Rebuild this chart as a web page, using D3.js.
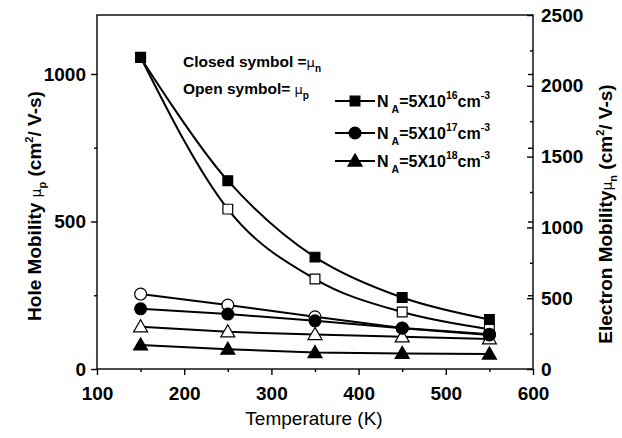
<!DOCTYPE html>
<html>
<head>
<meta charset="utf-8">
<script src="https://cdn.jsdelivr.net/npm/d3@7/dist/d3.min.js"></script>
<style>
  html, body { margin: 0; padding: 0; background: #fff; }
  svg { display: block; font-family: "Liberation Sans", Arial, sans-serif; }
</style>
</head>
<body>
<svg id="chart" width="622" height="438"></svg>
<script>
// Temperature points (K)
const temps = [150, 250, 350, 450, 550];

// Electron mobility (closed symbols, right axis), cm^2/V-s
const muN_16 = [2200, 1330, 790, 505, 350];
const muN_17 = [425, 388, 340, 288, 240];
const muN_18 = [170, 140, 116, 110, 106];

// Hole mobility (open symbols, left axis), cm^2/V-s
const muP_16 = [1057, 542, 305, 193, 135];
const muP_17 = [254, 217, 177, 139, 118];
const muP_18 = [143, 126, 117, 109, 102];

// Axis ticks
const xTicks = [100, 200, 300, 400, 500, 600];
const xMinor = [150, 250, 350, 450, 550];
const yLeftTicks = [0, 500, 1000];
const yLeftMinor = [250, 750];
const yRightTicks = [0, 500, 1000, 1500, 2000, 2500];
const yRightMinor = [250, 750, 1250, 1750, 2250];

// Legend entries: exponent of the acceptor concentration
const legendExp = ["16", "17", "18"];
const legendShapes = ["square", "circle", "triangle"];

const svg = d3.select("#chart");
const L = 97, R = 533, T = 15, B = 369;

const x = d3.scaleLinear().domain([100, 600]).range([L, R]);
const yL = d3.scaleLinear().domain([0, 1200]).range([B, T]);
const yR = d3.scaleLinear().domain([0, 2500]).range([B, T]);

const ink = "#000";
const FONT = "Liberation Sans, Arial, sans-serif";

// ---- frame and axes ----
svg.append("rect").attr("x", L).attr("y", T).attr("width", R - L).attr("height", B - T)
  .attr("fill", "none").attr("stroke", ink).attr("stroke-width", 1.4);

function styleAxis(g, withText) {
  g.select(".domain").remove();
  g.selectAll(".tick line").attr("stroke-width", 1.4);
  if (withText) {
    g.selectAll(".tick text").attr("font-size", 19).attr("font-weight", "bold").attr("font-family", FONT);
  }
  return g;
}

// bottom axis (outward ticks)
const gx = styleAxis(svg.append("g").attr("transform", `translate(0,${B})`)
  .call(d3.axisBottom(x).tickValues(xTicks).tickSize(6).tickFormat(d3.format("d"))), true);
gx.selectAll(".tick text").attr("dy", "1.15em");
styleAxis(svg.append("g").attr("transform", `translate(0,${B})`)
  .call(d3.axisBottom(x).tickValues(xMinor).tickSize(3).tickFormat("")), false);

// left axis (outward ticks)
styleAxis(svg.append("g").attr("transform", `translate(${L},0)`)
  .call(d3.axisLeft(yL).tickValues(yLeftTicks).tickSize(6).tickPadding(5).tickFormat(d3.format("d"))), true);
styleAxis(svg.append("g").attr("transform", `translate(${L},0)`)
  .call(d3.axisLeft(yL).tickValues(yLeftMinor).tickSize(3).tickFormat("")), false);

// right axis (inward ticks, labels outside)
styleAxis(svg.append("g").attr("transform", `translate(${R},0)`)
  .call(d3.axisRight(yR).tickValues(yRightTicks).tickSize(-6).tickPadding(8).tickFormat(d3.format("d"))), true);
styleAxis(svg.append("g").attr("transform", `translate(${R},0)`)
  .call(d3.axisRight(yR).tickValues(yRightMinor).tickSize(-3).tickFormat("")), false);
// left-axis ticks mirrored on the right edge
styleAxis(svg.append("g").attr("transform", `translate(${R},0)`)
  .call(d3.axisRight(yL).tickValues(yLeftTicks.concat(yLeftMinor).filter(d => d > 0)).tickSize(-5).tickFormat("")), false);

// ---- axis titles ----
svg.append("text")
  .attr("x", 314).attr("y", 425)
  .attr("text-anchor", "middle").attr("font-size", 19)
  .text("Temperature (K)");

function mobilityTitle(transform, head, sub) {
  const t = svg.append("text")
    .attr("transform", transform)
    .attr("text-anchor", "middle").attr("font-size", 19).attr("font-weight", "bold");
  t.append("tspan").text(head);
  t.append("tspan").attr("font-weight", "normal").attr("font-size", 14)
    .attr("font-family", "DejaVu Sans, sans-serif").text("\u03bc");
  t.append("tspan").attr("font-size", 11).attr("dy", 5).text(sub);
  t.append("tspan").attr("dy", -5).text(" (cm");
  t.append("tspan").attr("font-size", 11).attr("dy", -8).text("2");
  t.append("tspan").attr("dy", 8).text("/ V-s)");
}
mobilityTitle("translate(41,206) rotate(-90)", "Hole Mobility ", "p");
mobilityTitle("translate(612,214) rotate(-90)", "Electron Mobility", "n");

// ---- series ----
const series = [
  { vals: muP_16, y: yL, shape: "square", filled: false, curve: d3.curveMonotoneX },
  { vals: muP_17, y: yL, shape: "circle", filled: false, curve: d3.curveLinear },
  { vals: muP_18, y: yL, shape: "triangle", filled: false, curve: d3.curveLinear },
  { vals: muN_16, y: yR, shape: "square", filled: true, curve: d3.curveCatmullRom },
  { vals: muN_17, y: yR, shape: "circle", filled: true, curve: d3.curveLinear },
  { vals: muN_18, y: yR, shape: "triangle", filled: true, curve: d3.curveLinear }
];

const symbolSize = { square: 95, circle: 110, triangle: 85 };
const symbolType = { square: d3.symbolSquare, circle: d3.symbolCircle, triangle: d3.symbolTriangle };

const plotG = svg.append("g");
series.forEach(s => {
  const pts = temps.map((t, i) => [x(t), s.y(s.vals[i])]);
  plotG.append("path")
    .attr("d", d3.line().curve(s.curve)(pts))
    .attr("fill", "none").attr("stroke", ink).attr("stroke-width", 2);
});
series.forEach(s => {
  const gen = d3.symbol().type(symbolType[s.shape]).size(symbolSize[s.shape]);
  temps.forEach((t, i) => {
    plotG.append("path")
      .attr("d", gen())
      .attr("transform", `translate(${x(t)},${s.y(s.vals[i]) + (s.shape === "triangle" ? 1 : 0)})`)
      .attr("fill", s.filled ? ink : "#fff")
      .attr("stroke", ink).attr("stroke-width", 1.2);
  });
});

// ---- annotations ----
function muNote(yPos, label, sub) {
  const t = svg.append("text").attr("x", 183).attr("y", yPos)
    .attr("font-size", 15.5).attr("font-weight", "bold");
  t.append("tspan").text(label);
  t.append("tspan").attr("font-weight", "normal").attr("font-size", 13)
    .attr("font-family", "DejaVu Sans, sans-serif").text("\u03bc");
  t.append("tspan").attr("font-size", 10).attr("dy", 5).text(sub);
}
muNote(67, "Closed symbol =", "n");
muNote(94, "Open symbol= ", "p");

// ---- legend ----
const legRows = [101, 133, 161];
legendExp.forEach((e, i) => {
  const yy = legRows[i];
  svg.append("line").attr("x1", 335).attr("x2", 375).attr("y1", yy).attr("y2", yy)
    .attr("stroke", ink).attr("stroke-width", 2);
  svg.append("path")
    .attr("d", d3.symbol().type(symbolType[legendShapes[i]]).size(symbolSize[legendShapes[i]])())
    .attr("transform", `translate(355,${yy + (legendShapes[i] === "triangle" ? 1 : 0)})`)
    .attr("fill", ink).attr("stroke", ink).attr("stroke-width", 1.2);
  const t = svg.append("text").attr("x", 377).attr("y", yy + 6)
    .attr("font-size", 16).attr("font-weight", "bold");
  t.append("tspan").text("N");
  t.append("tspan").attr("font-size", 10.5).attr("dy", 6).attr("dx", 3).text("A");
  t.append("tspan").attr("dy", -6).text("=5X10");
  t.append("tspan").attr("font-size", 10.5).attr("dy", -8).text(e);
  t.append("tspan").attr("dy", 8).text("cm");
  t.append("tspan").attr("font-size", 10.5).attr("dy", -8).text("-3");
});
</script>
</body>
</html>
